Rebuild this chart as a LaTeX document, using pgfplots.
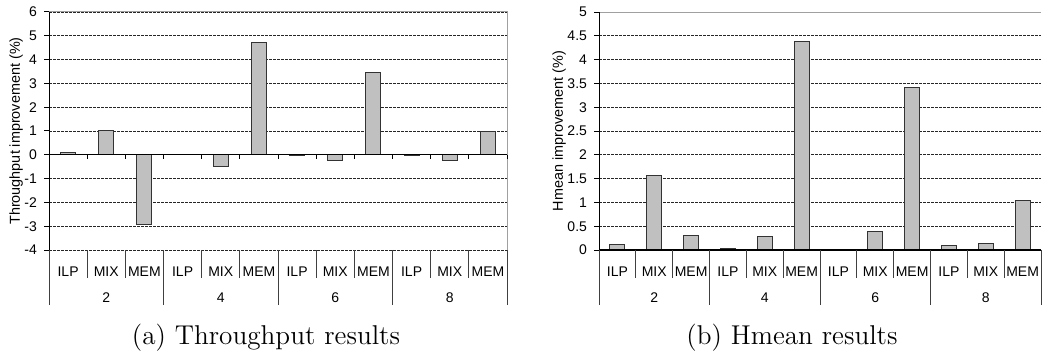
\documentclass[border=0pt]{standalone}
\usepackage{fontspec}
\newfontfamily\arial{Liberation Sans}
\usepackage{pgfplots}
\pgfplotsset{compat=1.18}

\definecolor{barfill}{HTML}{C0C0C0}
\definecolor{framegray}{HTML}{A0A0A0}

\pgfplotsset{
  impchart/.style={
    scale only axis, height=119pt,
    xmin=-0.5, xmax=11.5,
    axis line style={draw=none},
    xtick=\empty,
    ytick pos=left, tick align=outside, major tick length=2.5pt,
    tick style={black, line width=0.5pt},
    ymajorgrids,
    grid style={black!85, line width=0.4pt, dash pattern=on 1.3pt off 0.7pt},
    /pgf/number format/assume math mode=true,
    yticklabel style={font=\arial\fontsize{7}{8}\selectfont},
    ylabel style={font=\arial\fontsize{7.2}{8}\selectfont},
    ylabel shift=-6pt,
    clip=false,
    ybar, bar width=7.5pt,
  },
}
\tikzset{
  bars/.style={fill=barfill, draw=black!80, line width=0.5pt},
  lab/.style={font=\arial\fontsize{7}{8}\selectfont, anchor=base, inner sep=0pt},
  catsep/.style={black!75, line width=0.5pt},
  caption/.style={font=\fontsize{13.6}{15}\selectfont},
}

\begin{document}
\begin{tikzpicture}
\useasboundingbox (0pt,0pt) rectangle (521pt,177pt);

% ---------------- (a) Throughput ----------------
\begin{axis}[impchart, at={(24.5pt,52pt)}, anchor=south west, width=229pt,
  ymin=-4, ymax=6, ytick={-4,-3,...,6},
  ylabel={Throughput improvement (\%)}]
\addplot[bars] coordinates {
  (0,0.10) (1,1.00) (2,-2.93)
  (3,0.00) (4,-0.49) (5,4.73)
  (6,-0.03) (7,-0.24) (8,3.46)
  (9,-0.03) (10,-0.22) (11,0.99)};
% frame and zero line
\draw[framegray, line width=0.5pt] (rel axis cs:0,1) -- (rel axis cs:1,1) -- (rel axis cs:1,0);
\draw[black, line width=0.5pt] (rel axis cs:0,0) -- (rel axis cs:0,1);
\draw[black, line width=0.6pt] (axis cs:-0.5,0) -- (axis cs:11.5,0);
\foreach \b in {0.5,1.5,2.5,3.5,4.5,5.5,6.5,7.5,8.5,9.5,10.5,11.5}
  {\edef\tmp{\noexpand\draw[black, line width=0.5pt] (axis cs:\b,0) -- ++(0pt,-2.2pt);}\tmp}
% category separators
\foreach \b in {0.5,1.5,3.5,4.5,6.5,7.5,9.5,10.5}
  {\edef\tmp{\noexpand\draw[catsep] (axis cs:\b,-4) -- ++(0pt,-14pt);}\tmp}
\foreach \b in {-0.5,2.5,5.5,8.5,11.5}
  {\edef\tmp{\noexpand\draw[catsep] (axis cs:\b,-4) -- ++(0pt,-27.5pt);}\tmp}
% category names
\node[lab, yshift=-13pt] at (axis cs:0,-4) {ILP};
\node[lab, yshift=-13pt] at (axis cs:1,-4) {MIX};
\node[lab, yshift=-13pt] at (axis cs:2,-4) {MEM};
\node[lab, yshift=-13pt] at (axis cs:3,-4) {ILP};
\node[lab, yshift=-13pt] at (axis cs:4,-4) {MIX};
\node[lab, yshift=-13pt] at (axis cs:5,-4) {MEM};
\node[lab, yshift=-13pt] at (axis cs:6,-4) {ILP};
\node[lab, yshift=-13pt] at (axis cs:7,-4) {MIX};
\node[lab, yshift=-13pt] at (axis cs:8,-4) {MEM};
\node[lab, yshift=-13pt] at (axis cs:9,-4) {ILP};
\node[lab, yshift=-13pt] at (axis cs:10,-4) {MIX};
\node[lab, yshift=-13pt] at (axis cs:11,-4) {MEM};
\node[lab, yshift=-26pt] at (axis cs:1,-4) {2};
\node[lab, yshift=-26pt] at (axis cs:4,-4) {4};
\node[lab, yshift=-26pt] at (axis cs:7,-4) {6};
\node[lab, yshift=-26pt] at (axis cs:10,-4) {8};
\end{axis}

% ---------------- (b) Hmean ----------------
\begin{axis}[impchart, at={(299.5pt,52pt)}, anchor=south west, width=221pt,
  ymin=0, ymax=5, ytick={0,0.5,...,5},
  ylabel={Hmean improvement (\%)}]
\addplot[bars] coordinates {
  (0,0.11) (1,1.57) (2,0.30)
  (3,0.03) (4,0.29) (5,4.39)
  (6,0.00) (7,0.38) (8,3.42)
  (9,0.10) (10,0.13) (11,1.04)};
\draw[framegray, line width=0.5pt] (rel axis cs:0,1) -- (rel axis cs:1,1);
\draw[black, line width=0.5pt] (rel axis cs:0,0) -- (rel axis cs:0,1);
\draw[black, line width=0.6pt] (axis cs:-0.5,0) -- (axis cs:11.5,0);
\foreach \b in {0.5,1.5,3.5,4.5,6.5,7.5,9.5,10.5}
  {\edef\tmp{\noexpand\draw[catsep] (axis cs:\b,0) -- ++(0pt,-14pt);}\tmp}
\foreach \b in {-0.5,2.5,5.5,8.5,11.5}
  {\edef\tmp{\noexpand\draw[catsep] (axis cs:\b,0) -- ++(0pt,-27.5pt);}\tmp}
\node[lab, yshift=-13pt] at (axis cs:0,0) {ILP};
\node[lab, yshift=-13pt] at (axis cs:1,0) {MIX};
\node[lab, yshift=-13pt] at (axis cs:2,0) {MEM};
\node[lab, yshift=-13pt] at (axis cs:3,0) {ILP};
\node[lab, yshift=-13pt] at (axis cs:4,0) {MIX};
\node[lab, yshift=-13pt] at (axis cs:5,0) {MEM};
\node[lab, yshift=-13pt] at (axis cs:6,0) {ILP};
\node[lab, yshift=-13pt] at (axis cs:7,0) {MIX};
\node[lab, yshift=-13pt] at (axis cs:8,0) {MEM};
\node[lab, yshift=-13pt] at (axis cs:9,0) {ILP};
\node[lab, yshift=-13pt] at (axis cs:10,0) {MIX};
\node[lab, yshift=-13pt] at (axis cs:11,0) {MEM};
\node[lab, yshift=-26pt] at (axis cs:1,0) {2};
\node[lab, yshift=-26pt] at (axis cs:4,0) {4};
\node[lab, yshift=-26pt] at (axis cs:7,0) {6};
\node[lab, yshift=-26pt] at (axis cs:10,0) {8};
\end{axis}

% sub-figure captions
\node[caption] at (133pt,8pt) {(a) Throughput results};
\node[caption] at (396pt,8pt) {(b) Hmean results};
\end{tikzpicture}
\end{document}
